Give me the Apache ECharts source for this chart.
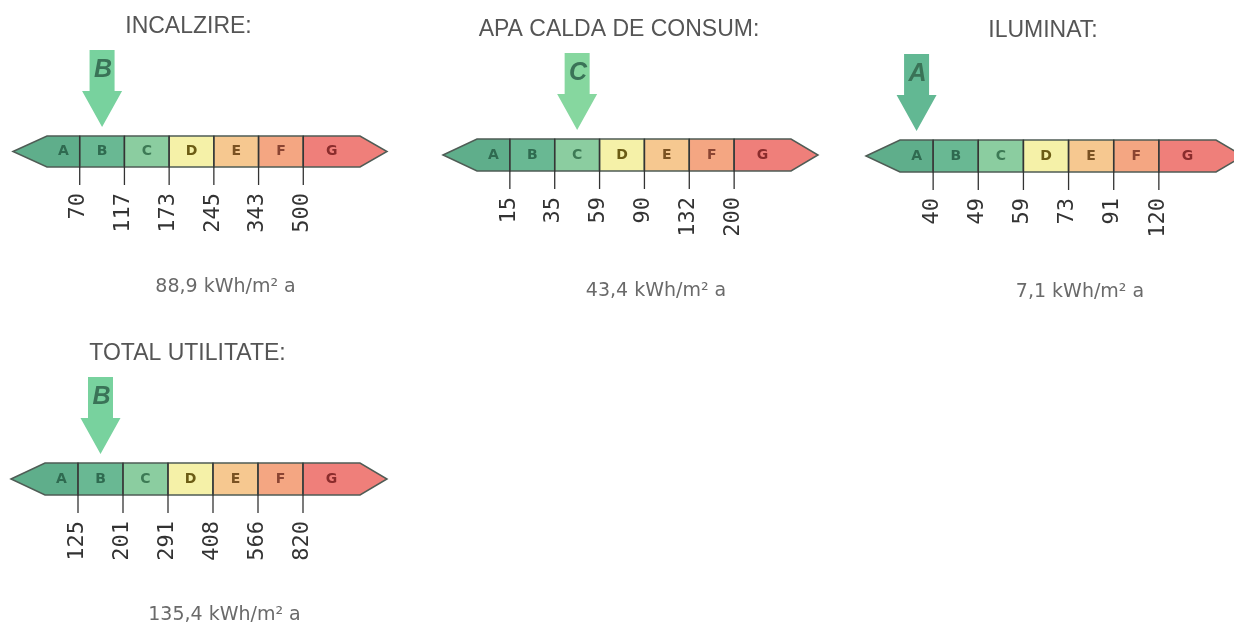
<!DOCTYPE html>
<html>
<head>
<meta charset="utf-8">
<script src="https://cdn.jsdelivr.net/npm/echarts@6/dist/echarts.min.js"></script>
<style>
html, body { margin: 0; background: #fff; }
#main { width: 1234px; height: 624px; }
</style>
</head>
<body>
<div id="main"></div>
<script>
// energy classes and limits for each part of the label
const classes = ['A', 'B', 'C', 'D', 'E', 'F', 'G'];
const panelTitles = ['INCALZIRE:', 'APA CALDA DE CONSUM:', 'ILUMINAT:', 'TOTAL UTILITATE:'];
const incalzireLimits = [70, 117, 173, 245, 343, 500];
const apaCaldaLimits = [15, 35, 59, 90, 132, 200];
const iluminatLimits = [40, 49, 59, 73, 91, 120];
const totalLimits = [125, 201, 291, 408, 566, 820];
const ratings = ['B', 'C', 'A', 'B'];
const consumption = [88.9, 43.4, 7.1, 135.4];
const unit = 'kWh/m\u00b2 a';

const allLimits = [incalzireLimits, apaCaldaLimits, iluminatLimits, totalLimits];

const classColors = ['#5fae8b', '#69b893', '#8bcda0', '#f5f1a8', '#f6c890', '#f4a682', '#ef7f7a'];
const letterColors = ['#2f6a50', '#2f6a50', '#3d7a55', '#6b5c14', '#7a5222', '#8a4432', '#8a2c2c'];
const arrowColors = { A: '#62b893', B: '#78d29e', C: '#86d79f' };

const grids = [
    { left: 35, top: 136, width: 313, height: 31 },
    { left: 465, top: 139, width: 314, height: 32 },
    { left: 888, top: 140, width: 316, height: 32 },
    { left: 33, top: 463, width: 315, height: 32 }
];

function formatValue(v) {
    return v.toFixed(1).replace('.', ',') + ' ' + unit;
}

function makeRender(p) {
    const limits = allLimits[p];
    return function (params, api) {
        const i = api.value(0);
        const c = api.coord([i, 0]);
        const top = api.coord([i, 1])[1];
        const bottom = c[1];
        const w = api.size([1, 0])[0];
        const x0 = c[0] - w / 2;
        const x1 = c[0] + w / 2;
        const mid = (top + bottom) / 2;
        let pts;
        let lx = c[0];
        if (i === 0) {
            pts = [[x0 - 22, mid], [x0 + 12, top], [x1, top], [x1, bottom], [x0 + 12, bottom]];
            lx = (x0 + 12 + x1) / 2;
        } else if (i === classes.length - 1) {
            pts = [[x0, top], [x1 + 12, top], [x1 + 39, mid], [x1 + 12, bottom], [x0, bottom]];
            lx = (x0 + x1 + 12) / 2;
        } else {
            pts = [[x0, top], [x1, top], [x1, bottom], [x0, bottom]];
        }
        const children = [];
        children.push({
            type: 'polygon',
            shape: { points: pts },
            style: { fill: classColors[i], stroke: '#4f5c55', lineWidth: 1.5 }
        });
        children.push({
            type: 'text',
            x: lx, y: mid,
            style: {
                text: classes[i], fill: letterColors[i],
                font: 'bold 14px "DejaVu Sans"',
                align: 'center', verticalAlign: 'middle'
            }
        });
        if (i > 0) {
            children.push({
                type: 'line',
                shape: { x1: x0, y1: top, x2: x0, y2: bottom + 18 },
                style: { stroke: '#333', lineWidth: 1.3 }
            });
            children.push({
                type: 'text',
                x: x0 - 1, y: bottom + 26,
                rotation: Math.PI / 2,
                style: {
                    text: String(limits[i - 1]), fill: '#333',
                    font: '22px "DejaVu Sans Mono"',
                    align: 'right', verticalAlign: 'middle'
                }
            });
        }
        if (classes[i] === ratings[p]) {
            const tip = top - 9;
            const headY = tip - 36;
            const shaftTop = tip - 77;
            children.push({
                type: 'polygon',
                shape: {
                    points: [[lx - 12.5, shaftTop], [lx + 12.5, shaftTop], [lx + 12.5, headY],
                        [lx + 20, headY], [lx, tip], [lx - 20, headY], [lx - 12.5, headY]]
                },
                style: { fill: arrowColors[ratings[p]] }
            });
            children.push({
                type: 'text',
                x: lx + 1, y: tip - 57,
                style: {
                    text: ratings[p], fill: '#3a7357',
                    font: 'italic bold 25px "Liberation Sans"',
                    align: 'center', verticalAlign: 'middle'
                }
            });
        }
        if (i === 0) {
            const cs = params.coordSys;
            const cx = cs.x + cs.width / 2;
            children.push({
                type: 'text',
                x: cx - 3, y: cs.y - 109,
                style: {
                    text: panelTitles[p], fill: '#555',
                    font: '23px "Liberation Sans"',
                    align: 'center', verticalAlign: 'middle'
                }
            });
            children.push({
                type: 'text',
                x: cx + 34, y: cs.y + cs.height + 120,
                style: {
                    text: formatValue(consumption[p]), fill: '#6a6a6a',
                    font: '19px "DejaVu Sans"',
                    align: 'center', verticalAlign: 'middle'
                }
            });
        }
        return { type: 'group', children: children };
    };
}

const myChart = echarts.init(document.getElementById('main'));

const option = {
    backgroundColor: '#fff',
    animation: false,
    grid: grids,
    xAxis: grids.map(function (g, k) {
        return { type: 'category', gridIndex: k, data: classes, show: false, boundaryGap: true };
    }),
    yAxis: grids.map(function (g, k) {
        return { type: 'value', gridIndex: k, min: 0, max: 1, show: false };
    }),
    series: grids.map(function (g, k) {
        return {
            type: 'custom',
            xAxisIndex: k,
            yAxisIndex: k,
            clip: false,
            silent: true,
            renderItem: makeRender(k),
            data: classes.map(function (cl, i) { return [i, 1]; })
        };
    })
};

myChart.setOption(option);
</script>
</body>
</html>
